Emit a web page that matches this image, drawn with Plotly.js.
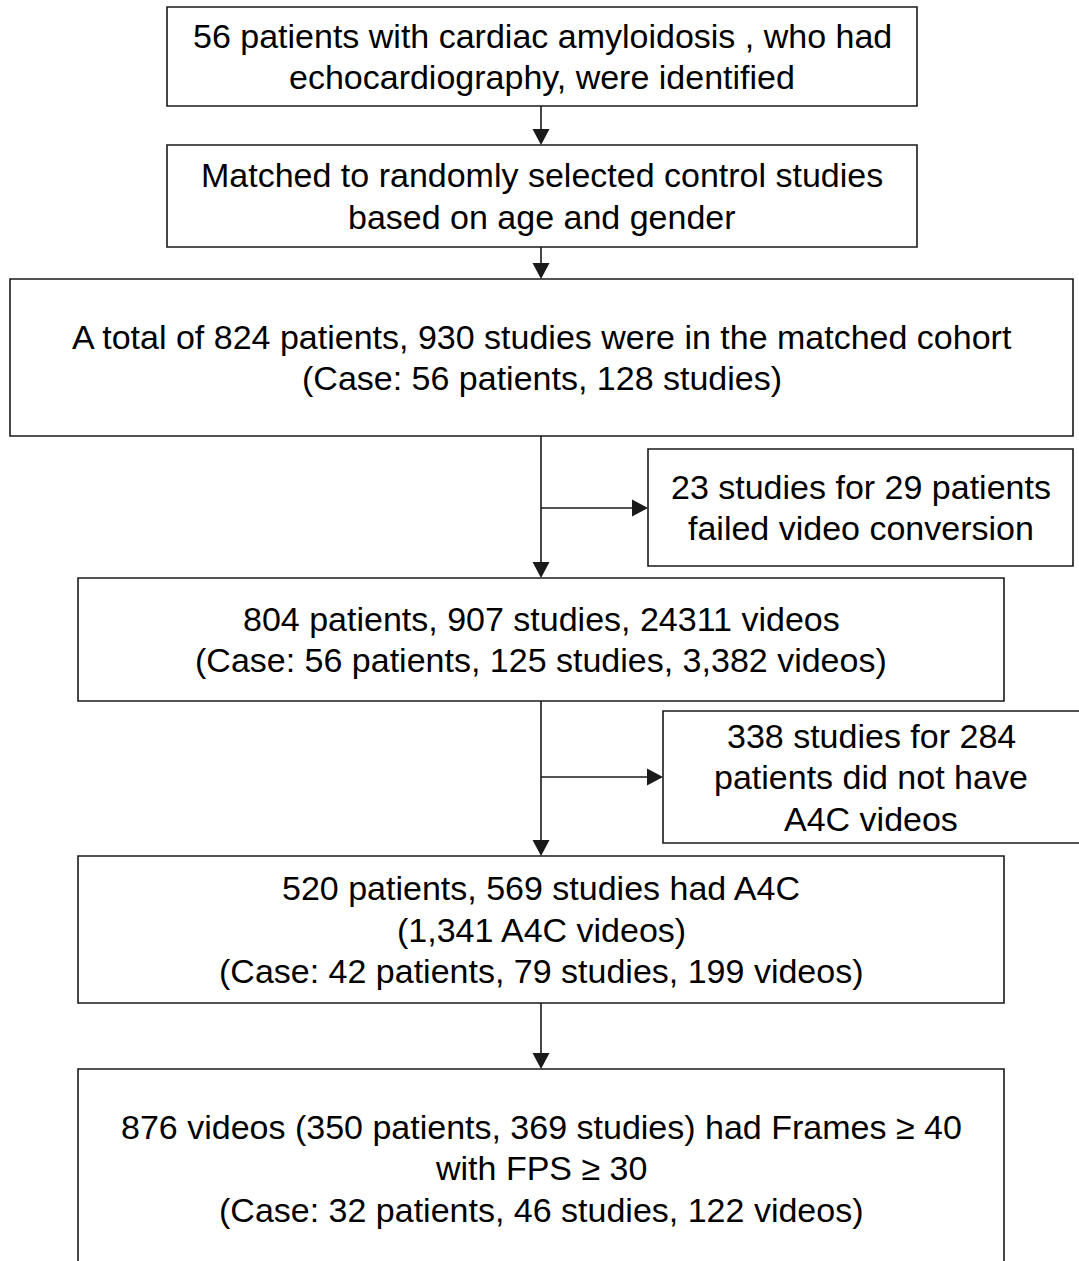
<!DOCTYPE html>
<html>
<head>
<meta charset="utf-8">
<script src="https://cdn.plot.ly/plotly-3.0.1.min.js"></script>
<style>html,body{margin:0;padding:0;background:#fff;}#chart{width:1079px;height:1261px;}</style>
</head>
<body>
<div id="chart"></div>
<script>
// Flowchart content
const boxTexts = [
  "56 patients with cardiac amyloidosis , who had<br>echocardiography, were identified",
  "Matched to randomly selected control studies<br>based on age and gender",
  "A total of 824 patients, 930 studies were in the matched cohort<br>(Case: 56 patients, 128 studies)",
  "23 studies for 29 patients<br>failed video conversion",
  "804 patients, 907 studies, 24311 videos<br>(Case: 56 patients, 125 studies, 3,382 videos)",
  "338 studies for 284<br>patients did not have<br>A4C videos",
  "520 patients, 569 studies had A4C<br>(1,341 A4C videos)<br>(Case: 42 patients, 79 studies, 199 videos)",
  "876 videos (350 patients, 369 studies) had Frames ≥ 40<br>with FPS ≥ 30<br>(Case: 32 patients, 46 studies, 122 videos)"
];
// Box layout (pixel space): x0, x1, y0, y1
const boxX0 = [167, 167, 10, 648, 78, 663, 78, 78];
const boxX1 = [917, 917, 1073, 1073, 1004, 1083, 1004, 1004];
const boxY0 = [7, 145, 279, 449, 578, 711, 856, 1069];
const boxY1 = [106, 247, 436, 566, 701, 843, 1003, 1267];

// Main flow arrows: from box i to box j (vertical at spine x)
const spineX = 541;
const mainFrom = [0, 1, 2, 4, 6];
const mainTo = [1, 2, 4, 6, 7];
// Side branches
const sideY = [508, 777];
const sideTo = [3, 5];

const lineColor = "#1a1a1a";
const fontSize = 34;
const lineGap = 41.5;
const shapes = [];
const annotations = [];

for (let i = 0; i < boxTexts.length; i++) {
  shapes.push({type: "rect", xref: "x", yref: "y",
    x0: boxX0[i], x1: boxX1[i], y0: boxY0[i], y1: boxY1[i],
    line: {color: lineColor, width: 1.6}, fillcolor: "rgba(0,0,0,0)"});
  const lines = boxTexts[i].split("<br>");
  const cx = (boxX0[i] + Math.min(boxX1[i], 1079)) / 2;
  const cy = (boxY0[i] + boxY1[i]) / 2;
  lines.forEach((ln, j) => {
    annotations.push({xref: "x", yref: "y",
      x: cx, y: cy + (j - (lines.length - 1) / 2) * lineGap,
      text: ln, showarrow: false, xanchor: "center", yanchor: "middle",
      align: "center", font: {family: "Liberation Sans, Arial, sans-serif", size: fontSize, color: "#000"}});
  });
}

const headLen = 16, headHalf = 8.5;
function downHead(x, y) {
  return {type: "path", xref: "x", yref: "y",
    path: `M ${x - headHalf} ${y - headLen} L ${x + headHalf} ${y - headLen} L ${x} ${y} Z`,
    fillcolor: lineColor, line: {color: lineColor, width: 0}};
}
function rightHead(x, y) {
  return {type: "path", xref: "x", yref: "y",
    path: `M ${x - headLen} ${y - headHalf} L ${x - headLen} ${y + headHalf} L ${x} ${y} Z`,
    fillcolor: lineColor, line: {color: lineColor, width: 0}};
}

for (let k = 0; k < mainFrom.length; k++) {
  const y0 = boxY1[mainFrom[k]], y1 = boxY0[mainTo[k]];
  shapes.push({type: "line", xref: "x", yref: "y", x0: spineX, x1: spineX, y0: y0, y1: y1 - headLen + 2,
    line: {color: lineColor, width: 1.6}});
  shapes.push(downHead(spineX, y1));
}
for (let k = 0; k < sideY.length; k++) {
  const tx = boxX0[sideTo[k]];
  shapes.push({type: "line", xref: "x", yref: "y", x0: spineX, x1: tx - headLen + 2, y0: sideY[k], y1: sideY[k],
    line: {color: lineColor, width: 1.6}});
  shapes.push(rightHead(tx, sideY[k]));
}

const layout = {
  width: 1079, height: 1261,
  margin: {l: 0, r: 0, t: 0, b: 0},
  paper_bgcolor: "#fff", plot_bgcolor: "#fff",
  showlegend: false,
  xaxis: {range: [0, 1079], visible: false, fixedrange: true},
  yaxis: {range: [1261, 0], visible: false, fixedrange: true},
  shapes: shapes,
  annotations: annotations
};
Plotly.newPlot("chart", [], layout, {displayModeBar: false, staticPlot: true});
</script>
</body>
</html>
